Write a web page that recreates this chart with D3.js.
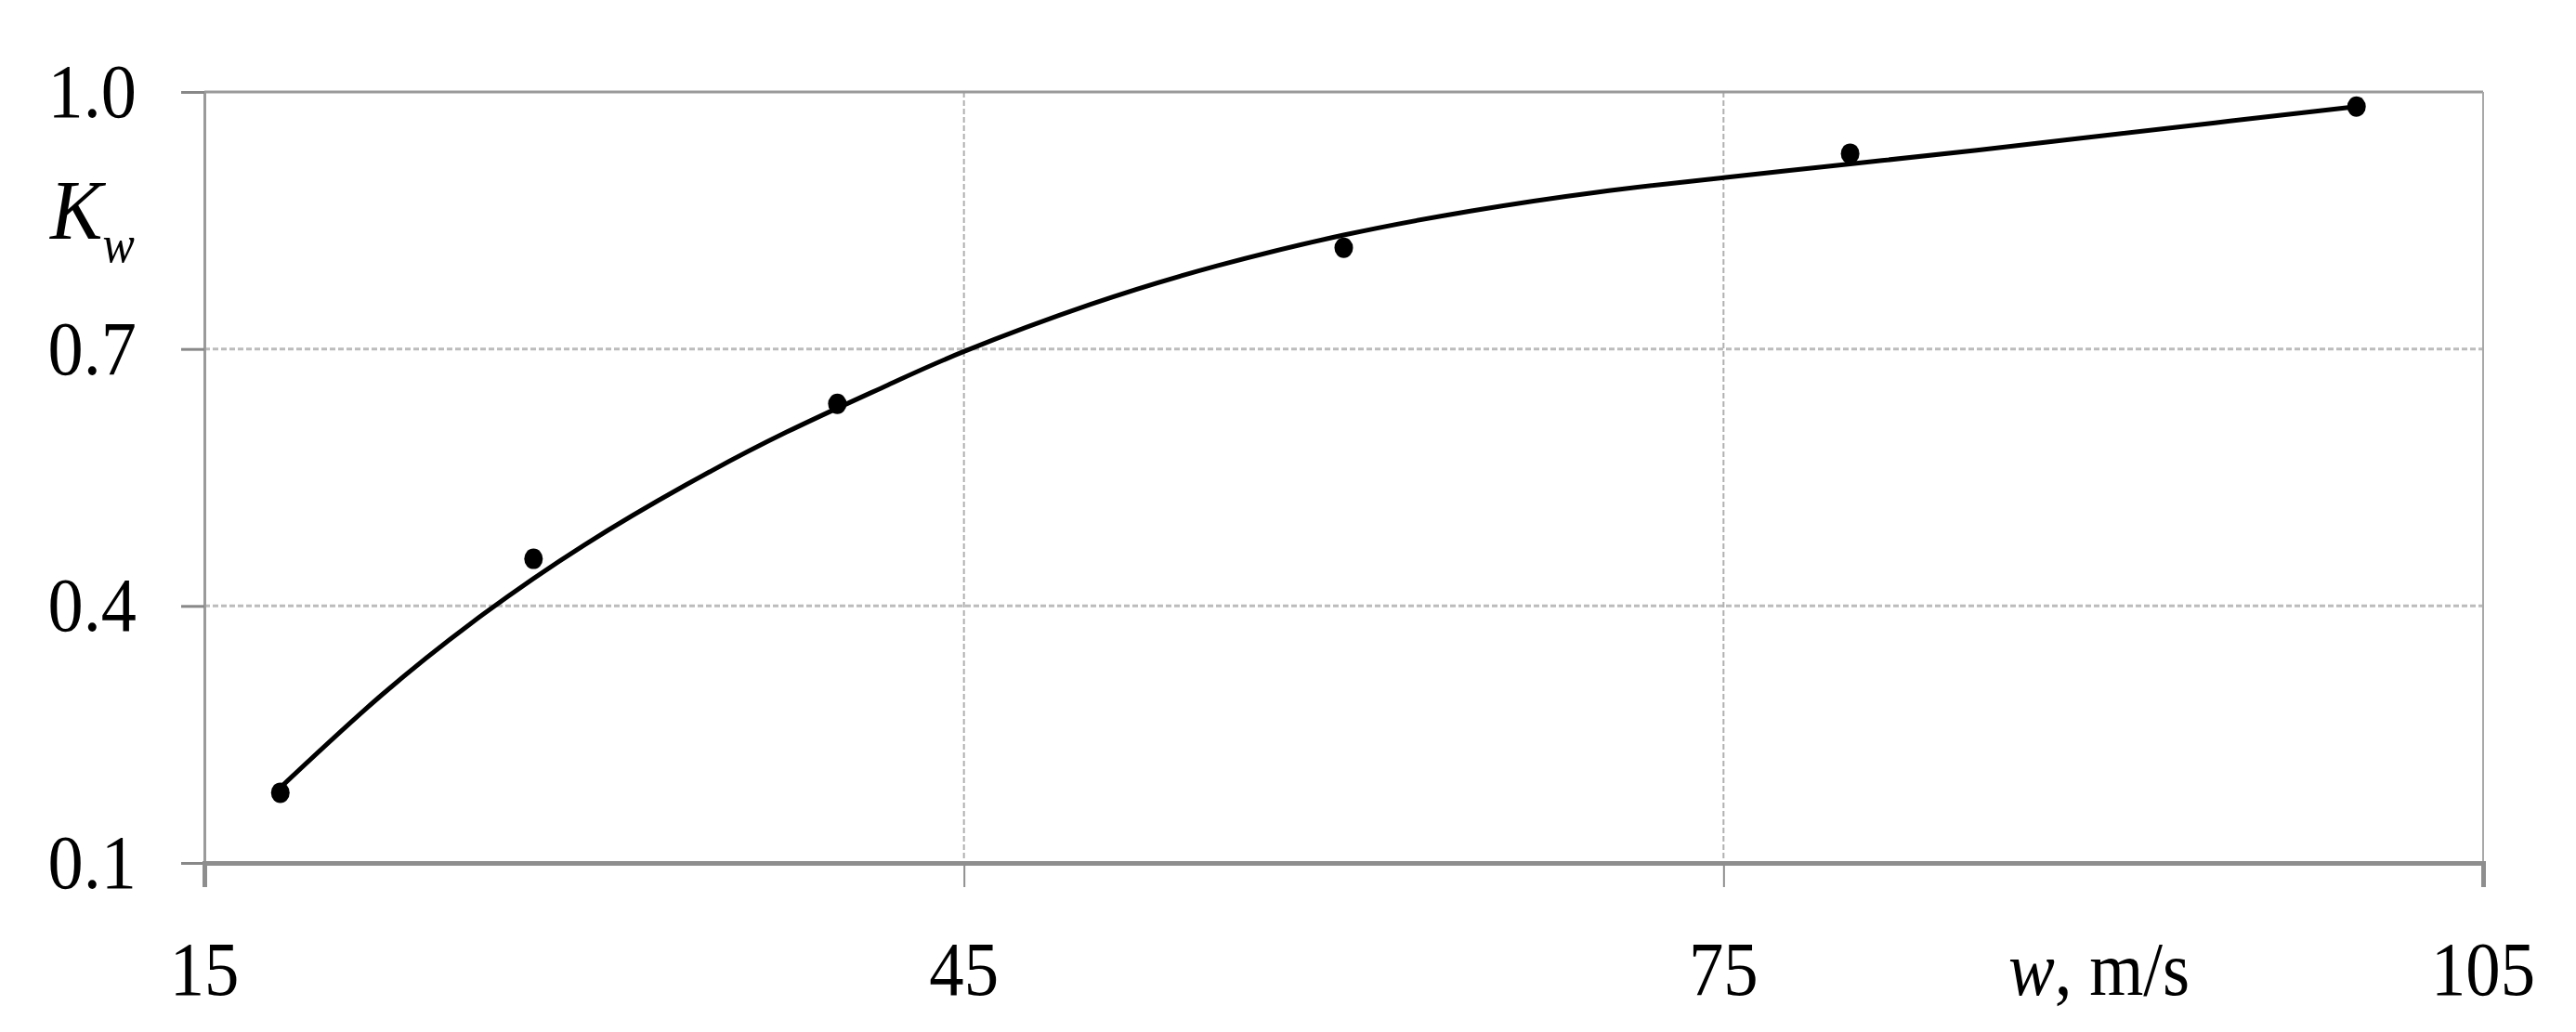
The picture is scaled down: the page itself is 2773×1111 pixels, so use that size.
<!DOCTYPE html>
<html>
<head>
<meta charset="utf-8">
<script src="https://cdn.jsdelivr.net/npm/d3@7"></script>
<style>
  html, body { margin: 0; padding: 0; background: #fff; }
  text { font-family: "Liberation Serif", "Times New Roman", serif; fill: #000; }
</style>
</head>
<body>
<svg id="chart"></svg>
<script>
// measured points, K_w against w
const speed = [18, 28, 40, 60, 80, 100]
const kw = [0.182, 0.455, 0.636, 0.818, 0.928, 0.983]

// trend line
const trendSpeed = [18, 22, 26, 30, 34, 38, 42, 45, 50, 55, 60, 65, 70, 75, 80, 85, 90, 95, 100]
const trendKw = [0.188, 0.296, 0.390, 0.471, 0.541, 0.603, 0.658, 0.697, 0.752, 0.797, 0.833, 0.861, 0.883, 0.900, 0.916, 0.932, 0.949, 0.966, 0.983]

const xTicks = [15, 45, 75, 105]
const yTicks = [0.1, 0.4, 0.7, 1.0]

const W = 2773
const H = 1111
const margin = {top: 99, right: 100, bottom: 182, left: 220}

const svg = d3.select("#chart")
  .attr("width", W)
  .attr("height", H)

svg.append("rect").attr("width", W).attr("height", H).attr("fill", "#fff")

const x = d3.scaleLinear().domain([15, 105]).range([margin.left, W - margin.right])
const y = d3.scaleLinear().domain([0.1, 1.0]).range([H - margin.bottom, margin.top])

// dotted grid
svg.append("g")
  .selectAll("line")
  .data(yTicks.filter(d => d > 0.1 && d < 1.0))
  .join("line")
  .attr("x1", x(15)).attr("x2", x(105))
  .attr("y1", d => y(d)).attr("y2", d => y(d))
  .attr("stroke", "#bcbcbc")
  .attr("stroke-width", 3)
  .attr("stroke-dasharray", "6,3")

svg.append("g")
  .selectAll("line")
  .data(xTicks.filter(d => d > 15 && d < 105))
  .join("line")
  .attr("x1", d => x(d)).attr("x2", d => x(d))
  .attr("y1", y(1.0)).attr("y2", y(0.1))
  .attr("stroke", "#b0b0b0")
  .attr("stroke-width", 2)
  .attr("stroke-dasharray", "6,3")

// plot border (top and right)
svg.append("line")
  .attr("x1", x(15)).attr("x2", x(105))
  .attr("y1", y(1.0)).attr("y2", y(1.0))
  .attr("stroke", "#9a9a9a").attr("stroke-width", 3)
svg.append("line")
  .attr("x1", x(105)).attr("x2", x(105))
  .attr("y1", y(1.0)).attr("y2", y(0.1))
  .attr("stroke", "#a8a8a8").attr("stroke-width", 2)

// axes
const yAxis = svg.append("g")
  .attr("transform", `translate(${x(15)},0)`)
  .call(d3.axisLeft(y).tickValues(yTicks).tickSize(25).tickFormat(""))
yAxis.select(".domain").attr("stroke", "#9a9a9a").attr("stroke-width", 3)
yAxis.selectAll(".tick line").attr("stroke", "#888").attr("stroke-width", 3)

const xAxis = svg.append("g")
  .attr("transform", `translate(0,${y(0.1)})`)
  .call(d3.axisBottom(x).tickValues(xTicks).tickSize(26).tickFormat(""))
xAxis.select(".domain").attr("stroke", "#8e8e8e").attr("stroke-width", 5)
xAxis.selectAll(".tick line").attr("stroke", "#8e8e8e").attr("stroke-width", 2)

// tick labels, a bit narrow as in the original
svg.append("g")
  .selectAll("text")
  .data(yTicks)
  .join("text")
  .attr("transform", d => `translate(147,${y(d) + 27}) scale(0.92,1)`)
  .attr("text-anchor", "end")
  .attr("font-size", 83)
  .text(d => d.toFixed(1))

svg.append("g")
  .selectAll("text")
  .data(xTicks)
  .join("text")
  .attr("transform", d => `translate(${x(d)},${y(0.1) + 142}) scale(0.9,1)`)
  .attr("text-anchor", "middle")
  .attr("font-size", 83)
  .text(d => d)

// axis titles
const yTitle = svg.append("text")
  .attr("transform", "translate(54,257) scale(0.92,1)")
  .attr("font-size", 92)
yTitle.append("tspan").attr("font-style", "italic").text("K")
yTitle.append("tspan").attr("font-style", "italic").attr("font-size", 56).attr("dy", 25).text("w")

const xTitle = svg.append("text")
  .attr("transform", `translate(2162,${y(0.1) + 142}) scale(0.9,1)`)
  .attr("font-size", 83)
xTitle.append("tspan").attr("font-style", "italic").text("w")
xTitle.append("tspan").text(", m/s")

// trend line
const line = d3.line()
  .x(d => x(d[0]))
  .y(d => y(d[1]))
  .curve(d3.curveNatural)

svg.append("path")
  .datum(d3.zip(trendSpeed, trendKw))
  .attr("d", line)
  .attr("fill", "none")
  .attr("stroke", "#000")
  .attr("stroke-width", 5)

// markers
svg.append("g")
  .selectAll("ellipse")
  .data(d3.zip(speed, kw))
  .join("ellipse")
  .attr("cx", d => x(d[0]))
  .attr("cy", d => y(d[1]))
  .attr("rx", 10)
  .attr("ry", 11)
  .attr("fill", "#000")
</script>
</body>
</html>
